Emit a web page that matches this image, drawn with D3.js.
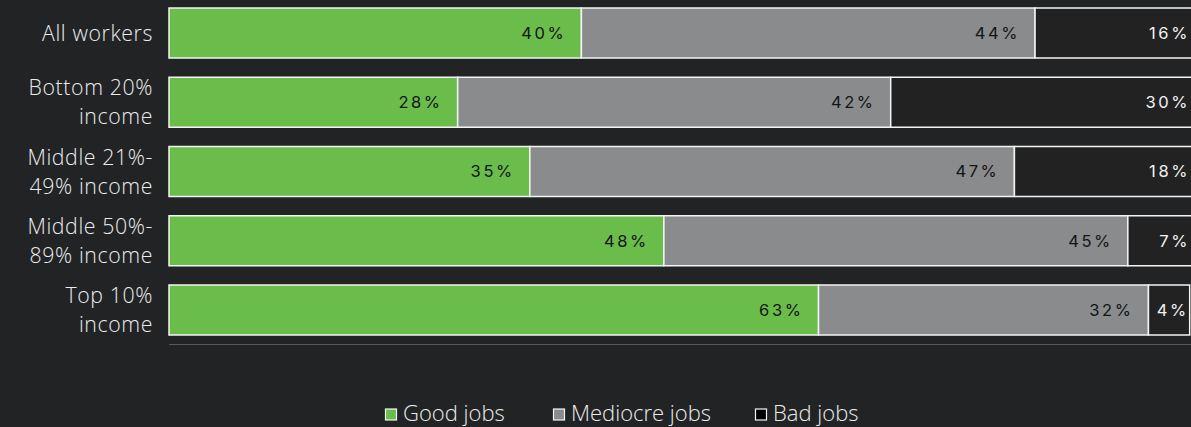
<!DOCTYPE html>
<html>
<head>
<meta charset="utf-8">
<script src="https://cdn.jsdelivr.net/npm/d3@7"></script>
<style>
  html, body { margin: 0; padding: 0; background: #222325; overflow: hidden; }
  svg { display: block; }
</style>
</head>
<body>
<svg id="chart" width="1191" height="427"></svg>
<script>
// Job quality by income group (shares of workers, %)
const categories = [
  ["All workers"],
  ["Bottom 20%", "income"],
  ["Middle 21%-", "49% income"],
  ["Middle 50%-", "89% income"],
  ["Top 10%", "income"]
];
const seriesNames = ["Good jobs", "Mediocre jobs", "Bad jobs"];
const goodJobs     = [40, 28, 35, 48, 63];
const mediocreJobs = [44, 42, 47, 45, 32];
const badJobs      = [16, 30, 18, 7, 4];

const colors = ["#6abd4b", "#898b8d", "#222222"];
const labelColors = ["#141414", "#141414", "#f2f2f2"];
const textFont = "'Open Sans', Inter, sans-serif";
const valueFont = "Inter, 'Noto Sans', sans-serif";

const W = 1191;
const svg = d3.select("#chart");
const margin = { top: 8, left: 169 };
const plotWidth = 1031;
const step = 69.25, band = 50;

const rows = categories.map((c, i) => ({
  key: i,
  lines: c,
  values: [goodJobs[i], mediocreJobs[i], badJobs[i]]
}));

const x = d3.scaleLinear().domain([0, 100]).range([0, plotWidth]);
const y = d3.scaleBand()
  .domain(rows.map(r => r.key))
  .range([0, step * (rows.length - 1) + band])
  .paddingInner((step - band) / step)
  .paddingOuter(0);

const g = svg.append("g").attr("transform", `translate(${margin.left},${margin.top})`);

// baseline under the bars
const baseY = y(rows[rows.length - 1].key) + y.bandwidth() + 9.5;
g.append("line")
  .attr("x1", 0).attr("x2", plotWidth)
  .attr("y1", baseY).attr("y2", baseY)
  .attr("stroke", "#58595b").attr("stroke-width", 1);

const stack = d3.stack().keys([0, 1, 2]).value((d, k) => d.values[k]);
const layers = stack(rows);

layers.forEach((layer, si) => {
  const lg = g.append("g");
  lg.selectAll("rect").data(layer).join("rect")
    .attr("x", d => x(d[0]))
    .attr("y", d => y(d.data.key))
    .attr("width", d => x(d[1]) - x(d[0]))
    .attr("height", y.bandwidth())
    .attr("fill", colors[si])
    .attr("stroke", "#f4f4f4")
    .attr("stroke-width", 1.5);
  lg.selectAll("text").data(layer).join("text")
    .attr("x", d => {
      const end = x(d[1]);
      // last segment: keep the label inside the visible frame
      if (si === 2) return Math.min(end, W - margin.left) - 1;
      return end - 15;
    })
    .attr("y", d => y(d.data.key) + y.bandwidth() / 2)
    .attr("dy", "0.36em")
    .attr("text-anchor", "end")
    .attr("fill", labelColors[si])
    .style("font-family", valueFont)
    .style("font-size", "16.5px")
    .style("font-weight", 400)
    .style("letter-spacing", "2.6px")
    .text(d => (d[1] - d[0]) + "%");
});

// category labels, one or two lines each
const cat = svg.append("g");
rows.forEach(r => {
  const cy = margin.top + y(r.key) + y.bandwidth() / 2;
  const n = r.lines.length;
  r.lines.forEach((line, li) => {
    cat.append("text")
      .attr("x", 153)
      .attr("y", cy + (li - (n - 1) / 2) * 29)
      .attr("dy", "0.36em")
      .attr("text-anchor", "end")
      .attr("fill", "#ececec")
      .style("font-family", textFont)
      .style("font-size", "21.3px")
      .style("font-weight", 300)
      .style("letter-spacing", "0.6px")
      .text(line);
  });
});

// legend
const legendX = [385, 553, 755];
const legend = svg.append("g");
seriesNames.forEach((name, i) => {
  legend.append("rect")
    .attr("x", legendX[i] + 0.5).attr("y", 409)
    .attr("width", 11).attr("height", 11)
    .attr("fill", i === 2 ? "#000" : colors[i])
    .attr("stroke", "#f4f4f4").attr("stroke-width", 1.2);
  legend.append("text")
    .attr("x", legendX[i] + 18).attr("y", 413)
    .attr("dy", "0.36em")
    .attr("fill", "#ececec")
    .style("font-family", textFont)
    .style("font-size", "22px")
    .style("font-weight", 300)
    .text(name);
});
</script>
</body>
</html>
